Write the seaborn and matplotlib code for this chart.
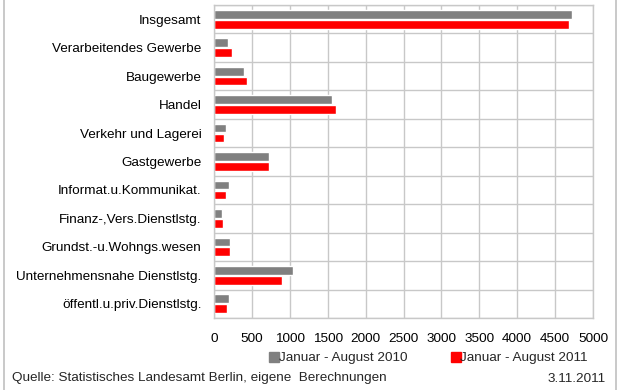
import matplotlib
matplotlib.use("Agg")
import matplotlib.pyplot as plt
from matplotlib.lines import Line2D
from matplotlib.ticker import MultipleLocator
import seaborn as sns
import pandas as pd

branchen = [
    "Insgesamt",
    "Verarbeitendes Gewerbe",
    "Baugewerbe",
    "Handel",
    "Verkehr und Lagerei",
    "Gastgewerbe",
    "Informat.u.Kommunikat.",
    "Finanz-,Vers.Dienstlstg.",
    "Grundst.-u.Wohngs.wesen",
    "Unternehmensnahe Dienstlstg.",
    "öffentl.u.priv.Dienstlstg.",
]
werte_2010 = [4728, 185, 395, 1555, 158, 725, 198, 105, 211, 1041, 198]
werte_2011 = [4680, 237, 435, 1608, 132, 725, 158, 119, 211, 896, 172]
zeitraum = ["Januar - August 2010", "Januar - August 2011"]
farben = ["#808080", "#ff0000"]
x_ticks = [0, 500, 1000, 1500, 2000, 2500, 3000, 3500, 4000, 4500, 5000]

df = pd.DataFrame({
    "Branche": branchen * 2,
    "Wert": werte_2010 + werte_2011,
    "Zeitraum": [zeitraum[0]] * len(branchen) + [zeitraum[1]] * len(branchen),
})

sns.set_theme(style="white")
plt.rcParams["font.family"] = ["Liberation Sans", "DejaVu Sans"]
fs = 9.7
plt.rcParams["font.size"] = fs

fig = plt.figure(figsize=(6.17, 3.90), dpi=100)
ax = fig.add_axes([214 / 617, 72 / 390, 379 / 617, 313 / 390])

sns.barplot(
    data=df, y="Branche", x="Wert", hue="Zeitraum",
    palette=farben, orient="h", width=0.7, gap=0.12,
    saturation=1, ax=ax, legend=False,
)

grid_col = "#c8c8c8"
ax.set_xlim(0, 5000)
ax.set_xticks(x_ticks)
ax.set_xticklabels([str(t) for t in x_ticks])
ax.set_ylim(len(branchen) - 0.5, -0.5)
ax.yaxis.set_minor_locator(MultipleLocator(1, offset=0.5))
ax.xaxis.grid(True, color=grid_col, linewidth=1.0)
ax.yaxis.grid(True, which="minor", color=grid_col, linewidth=1.0)
ax.set_axisbelow(True)
for sp in ax.spines.values():
    sp.set_visible(True)
    sp.set_color(grid_col)
    sp.set_linewidth(1.0)
ax.set_xlabel("")
ax.set_ylabel("")
ax.tick_params(axis="both", which="both", length=0, labelsize=fs, colors="#000000")
ax.tick_params(axis="y", pad=9)
ax.tick_params(axis="x", pad=10.5)

handles = [
    Line2D([], [], marker="s", linestyle="none", markersize=6.5,
           markerfacecolor=c, markeredgecolor=c)
    for c in farben
]
fig.legend(handles, zeitraum, loc="center", bbox_to_anchor=(429 / 617, 32 / 390),
           ncol=2, frameon=False, fontsize=fs, handlelength=0.6,
           handletextpad=0.05, columnspacing=3.3, borderpad=0)

fig.text(12 / 617, 12 / 390, "Quelle: Statistisches Landesamt Berlin, eigene  Berechnungen",
         fontsize=fs, ha="left", va="center")
fig.text(606 / 617, 11 / 390, "3.11.2011", fontsize=fs, ha="right", va="center")

# seitliche Rahmenlinien der Grafik
fig.add_artist(Line2D([3.5 / 617, 3.5 / 617], [0, 1], transform=fig.transFigure,
                      color="#c0c0c0", linewidth=1.2))
fig.add_artist(Line2D([615.5 / 617, 615.5 / 617], [0, 1], transform=fig.transFigure,
                      color="#c0c0c0", linewidth=1.2))

fig.savefig("out.png", dpi=100)
